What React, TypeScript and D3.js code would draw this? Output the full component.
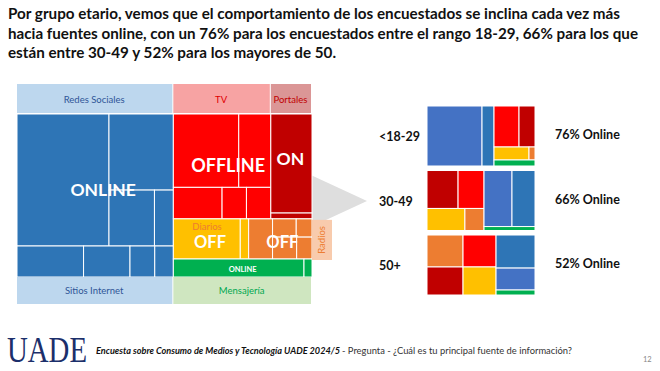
// @ts-nocheck
import * as d3 from "d3";
import React from "react";

const W = 660;
const H = 371;
const FONT = "Lato, 'Open Sans', sans-serif";

// medios, en orden fijo (los índices se usan en los layouts)
const medios = ["Redes Sociales", "Sitios Internet", "TV", "Portales", "Diarios", "Radios", "Mensajería"];
const colorBig = ["#2e75b6", "#2e75b6", "#ff0000", "#c00000", "#ffc000", "#ed7d31", "#00b050"];
const colorSmall = ["#4472c4", "#2e75b6", "#ff0000", "#c00000", "#ffc000", "#ed7d31", "#00b050"];

// total: fuentes dentro de cada medio (% del total)
const redesItems = [25.3, 10.2, 5.3, 2.2];
const sitiosItems = [4.3, 3.0, 1.6, 1.2];
const tvItems = [10.0, 4.9, 3.2, 1.6, 1.6];
const portalesItems = [8.5, 0.5];
const diariosItems = [5.6, 0.7];
const radiosItems = [2.0, 0.9, 0.6, 1.1, 0.7];
const mensajeriaItems = [4.9, 0.3];
const bigItems = [redesItems, sitiosItems, tvItems, portalesItems, diariosItems, radiosItems, mensajeriaItems];

// h = lado a lado, v = apilado
const bigLayout = ["h",
  ["v", { m: 0, s: ["h", 0, ["v", 1, ["h", 2, 3]]] }, { m: 1, s: ["h", 0, 1, 2, 3] }],
  ["v",
    ["h", { m: 2, s: ["v", ["h", 0, 1], ["h", 2, 3, 4]] }, { m: 3, s: ["v", 0, 1] }],
    ["h", { m: 4, s: ["h", 0, 1] }, { m: 5, s: ["h", 0, ["v", ["h", 1, 2], ["h", 3, 4]]] }],
    { m: 6, s: ["h", 0, 1] }]];

// por grupo etario (% por medio, mismo orden que medios)
const grupos = ["<18-29", "30-49", "50+"];
const onlineLabels = ["76% Online", "66% Online", "52% Online"];
const share1829 = [50.9, 11.1, 15.8, 10.1, 7.0, 1.2, 3.8];
const share3049 = [24.2, 19.9, 15.2, 18.2, 12.9, 6.5, 3.1];
const share50 = [13.2, 19.9, 16.3, 15.6, 14.3, 17.8, 3.0];
const grupoShares = [share1829, share3049, share50];
const grupoLayouts = [
  ["h", 0, 1, ["v", ["h", 2, 3], ["h", 4, 5], 6]],
  ["h", ["v", ["h", 3, 2], ["h", 4, 5]], ["v", ["h", 0, 1], 6]],
  ["h", ["v", 5, 3], ["v", 2, 4], ["v", 1, 0, 6]],
];

const titulo = [
  "Por grupo etario, vemos que el comportamiento de los encuestados se inclina cada vez más",
  "hacia fuentes online, con un 76% para los encuestados entre el rango 18-29, 66% para los que",
  "están entre 30-49 y 52% para los mayores de 50.",
];
const tituloLen = [612, 630, 328];

function build(spec, values, medio = null) {
  if (typeof spec === "number") return { value: values[spec], medio: medio ?? spec };
  if (!Array.isArray(spec)) {
    const n = build(spec.s, bigItems[spec.m], spec.m);
    n.isMedio = true;
    return n;
  }
  return { dir: spec[0], medio, children: spec.slice(1).map((s) => build(s, values, medio)) };
}

const tile = (node, x0, y0, x1, y1) =>
  (node.data.dir === "v" ? d3.treemapSlice : d3.treemapDice)(node, x0, y0, x1, y1);

function layout(spec, values, w, h) {
  const root = d3.hierarchy(build(spec, values)).sum((d) => (d.children ? 0 : d.value));
  return d3.treemap().tile(tile).size([w, h])(root);
}

const App = () => {
  // treemap total
  const bx = 17, by = 114, bw = 295, bh = 163;
  const big = layout(bigLayout, null, bw, bh);
  const med = (m) => big.descendants().find((d) => d.data.isMedio && d.data.medio === m);
  const [redes, sitios, tv, portales, diarios, radios, mensa] = medios.map((_, i) => med(i));

  // treemaps por edad
  const sx0 = 427, sx1 = 535;
  const y = d3.scaleBand(grupos, [106, 295]).paddingInner(0.07);
  const small = grupos.map((g, i) => layout(grupoLayouts[i], grupoShares[i], sx1 - sx0, y.bandwidth()));

  const header = (n, label, fill, color, top) => (
    <g key={label}>
      <rect x={bx + n.x0} y={top ? by - 30 : by + bh} width={n.x1 - n.x0 - 1} height={top ? 29 : 27} fill={fill} />
      <text x={bx + (n.x0 + n.x1) / 2 - 1} y={top ? by - 11 : by + bh + 17} textAnchor="middle"
        fontSize={9.5} fill={color}>{label}</text>
    </g>
  );

  const cx = (n) => bx + (n.x0 + n.x1) / 2;

  return (
    <svg width={W} height={H} style={{ position: "absolute", left: 0, top: 0, background: "#fff" }}
      fontFamily={FONT}>
      <rect width={W} height={H} fill="#fff" />
      <g fontWeight="bold" fontSize={15.5} fill="#111">
        {titulo.map((t, i) => (
          <text key={i} x={8} y={19 + i * 19.5} textLength={tituloLen[i]} lengthAdjust="spacingAndGlyphs">{t}</text>
        ))}
      </g>

      {/* flecha */}
      <polygon points={`${300},${170} ${367},${201} ${300},${232}`} fill="#dedede" />

      {/* total */}
      <g>
        {big.leaves().map((d, i) => (
          <rect key={i} x={bx + d.x0} y={by + d.y0} width={d.x1 - d.x0} height={d.y1 - d.y0}
            fill={colorBig[d.data.medio]} stroke="#fff" strokeWidth={1} />
        ))}
      </g>
      {header(redes, "Redes Sociales", "#bdd7ee", "#2f5597", true)}
      {header(sitios, "Sitios Internet", "#bdd7ee", "#2f5597", false)}
      {header(tv, "TV", "#f7a3a3", "#e00000", true)}
      {header(portales, "Portales", "#db9696", "#c00000", true)}
      {header(mensa, "Mensajería", "#cfe6c0", "#00a650", false)}
      <rect x={bx + radios.x1} y={by + radios.y0 + 1} width={20} height={radios.y1 - radios.y0} fill="#f8cbad" />
      <text transform={`translate(${bx + radios.x1 + 13},${by + (radios.y0 + radios.y1) / 2 + 1}) rotate(-90)`}
        textAnchor="middle" fontSize={9.5} fill="#ed7d31">Radios</text>
      <text x={cx(diarios) - 4} y={by + diarios.y0 + 11} textAnchor="middle" fontSize={9.5} fill="#ed7d31">Diarios</text>

      <g fill="#fff" fontWeight="bold" textAnchor="middle">
        <text x={cx(redes) + 8} y={196} fontSize={17.5}>ONLINE</text>
        <text x={cx(tv) + 6} y={172} fontSize={18}>OFFLINE</text>
        <text x={cx(portales) - 1} y={165} fontSize={17.5}>ON</text>
        <text x={cx(diarios) - 1} y={248} fontSize={16.5}>OFF</text>
        <text x={cx(radios) + 2} y={248} fontSize={16.5}>OFF</text>
        <text x={cx(mensa)} y={272} fontSize={7.5}>ONLINE</text>
      </g>

      {/* por grupo etario */}
      {small.map((root, gi) => (
        <g key={gi} transform={`translate(${sx0},${y(grupos[gi])})`}>
          {root.leaves().map((d, i) => (
            <rect key={i} x={d.x0} y={d.y0} width={d.x1 - d.x0} height={d.y1 - d.y0}
              fill={colorSmall[d.data.medio]} stroke="#fff" strokeWidth={1} />
          ))}
        </g>
      ))}
      <g fontWeight="bold" fontSize={12.5} fill="#111">
        {grupos.map((g, i) => (
          <text key={g} x={379} y={y(g) + y.bandwidth() / 2 + 5}>{g}</text>
        ))}
        {onlineLabels.map((t, i) => (
          <text key={t} x={555} y={y(grupos[i]) + y.bandwidth() / 2 + 3}>{t}</text>
        ))}
      </g>

      {/* pie */}
      <text x={7} y={362} fontFamily="'Liberation Serif', serif" fontSize={35} fill="#1c2f6b"
        textLength={80} lengthAdjust="spacingAndGlyphs">UADE</text>
      <text x={96} y={354} fontSize={9} fill="#111" fontWeight="bold" fontStyle="italic"
        textLength={244} lengthAdjust="spacingAndGlyphs">Encuesta sobre Consumo de Medios y Tecnología UADE 2024/5</text>
      <text x={342} y={354} fontSize={9} fill="#333" textLength={230} lengthAdjust="spacingAndGlyphs">
        - Pregunta - ¿Cuál es tu principal fuente de información?
      </text>
      <text x={643} y={362} fontSize={7.5} fill="#888">12</text>
    </svg>
  );
};

export default App;
